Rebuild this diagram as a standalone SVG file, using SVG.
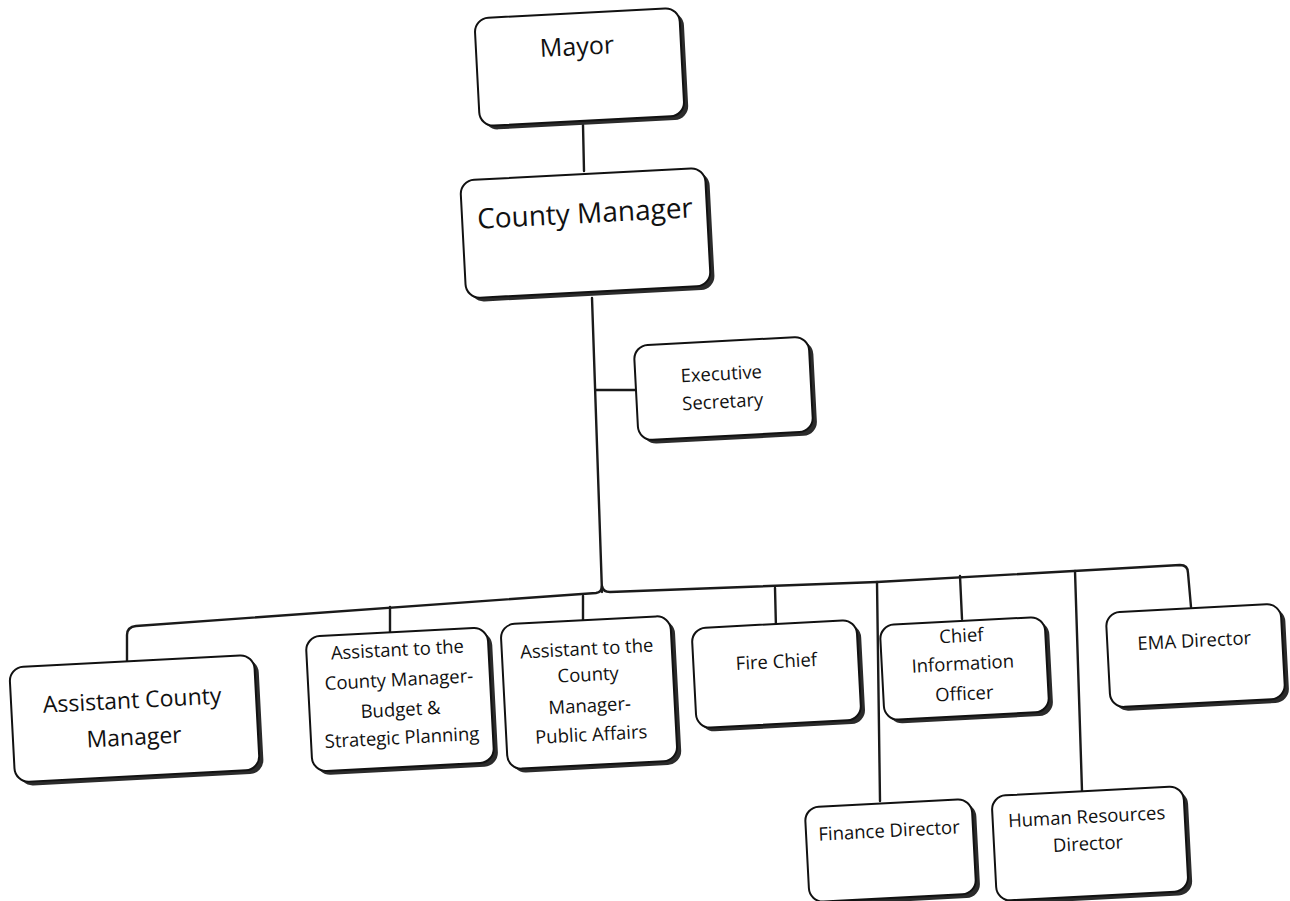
<svg xmlns="http://www.w3.org/2000/svg" width="1290" height="901" viewBox="0 0 1290 901">
<style>
.shadow{fill:#2b2b2b;}
.box{fill:#ffffff;stroke:#111111;stroke-width:2;}
.t{font-family:"Open Sans","Liberation Sans",sans-serif;fill:#111111;text-anchor:middle;}
.big{font-size:25px;}
.mid{font-size:23px;}
.sm{font-size:18.5px;}
.conn{fill:none;stroke:#1a1a1a;stroke-width:2.4;stroke-linecap:round;stroke-linejoin:round;}
</style>
<rect x="0" y="0" width="1290" height="901" fill="#ffffff"/>
<g id="connectors">
<path class="conn" d="M583,125 L584,171"/>
<path class="conn" d="M592,298 L602,592"/>
<path class="conn" d="M596,390 L637,390"/>
<path class="conn" d="M127,662 L127,635 Q127,627 136,626 L596,593 Q602,592 602,586 Q603,592 610,592 L877,582 L1180,565 Q1188,565 1188,573 L1191,607"/>
<path class="conn" d="M390,607 L390,633"/>
<path class="conn" d="M583,596 L583,621"/>
<path class="conn" d="M775,588 L776,629"/>
<path class="conn" d="M877,582 L880,801"/>
<path class="conn" d="M960,576 L962,619"/>
<path class="conn" d="M1075,571 L1082,791"/>
</g>
<g id="mayor" transform="rotate(-3 580 67)">
<rect class="shadow" x="481" y="17" width="205" height="108" rx="14"/>
<rect class="box" x="477" y="13" width="205" height="108" rx="14"/>
<text class="t big" x="578" y="55">Mayor</text>
</g>
<g id="county-manager" transform="rotate(-3 586 233)">
<rect class="shadow" x="467" y="178" width="245" height="118" rx="14"/>
<rect class="box" x="463" y="174" width="245" height="118" rx="14"/>
<text class="t" font-size="28" x="586" y="223">County Manager</text>
</g>
<g id="executive-secretary" transform="rotate(-3 723 388)">
<rect class="shadow" x="640" y="345" width="175" height="95" rx="14"/>
<rect class="box" x="636" y="341" width="175" height="95" rx="14"/>
<text class="t sm" x="722" y="380">Executive</text>
<text class="t sm" x="722" y="408">Secretary</text>
</g>
<g id="assistant-county-manager" transform="rotate(-3 135 718)">
<rect class="shadow" x="16" y="665" width="245" height="115" rx="14"/>
<rect class="box" x="12" y="661" width="245" height="115" rx="14"/>
<text class="t mid" x="133" y="708">Assistant County</text>
<text class="t mid" x="133" y="745">Manager</text>
</g>
<g id="assistant-budget" transform="rotate(-3 400 700)">
<rect class="shadow" x="313" y="636" width="182" height="135" rx="14"/>
<rect class="box" x="309" y="632" width="182" height="135" rx="14"/>
<text class="t sm" x="400" y="656">Assistant to the</text>
<text class="t sm" x="400" y="686">County Manager-</text>
<text class="t sm" x="400" y="716">Budget &amp;</text>
<text class="t sm" x="400" y="744">Strategic Planning</text>
</g>
<g id="assistant-public-affairs" transform="rotate(-3 589 692)">
<rect class="shadow" x="508" y="624" width="170" height="145" rx="14"/>
<rect class="box" x="504" y="620" width="170" height="145" rx="14"/>
<text class="t sm" x="589" y="655">Assistant to the</text>
<text class="t sm" x="589" y="681">County</text>
<text class="t sm" x="589" y="712">Manager-</text>
<text class="t sm" x="589" y="741">Public Affairs</text>
</g>
<g id="fire-chief" transform="rotate(-3 776 674)">
<rect class="shadow" x="698" y="628" width="165" height="100" rx="14"/>
<rect class="box" x="694" y="624" width="165" height="100" rx="14"/>
<text class="t sm" x="777" y="668">Fire Chief</text>
</g>
<g id="chief-information-officer" transform="rotate(-3 964 668)">
<rect class="shadow" x="886" y="625" width="165" height="95" rx="14"/>
<rect class="box" x="882" y="621" width="165" height="95" rx="14"/>
<text class="t sm" x="963" y="642">Chief</text>
<text class="t sm" x="963" y="670">Information</text>
<text class="t sm" x="963" y="700">Officer</text>
</g>
<g id="ema-director" transform="rotate(-3 1197 655)">
<rect class="shadow" x="1112" y="612" width="175" height="95" rx="14"/>
<rect class="box" x="1108" y="608" width="175" height="95" rx="14"/>
<text class="t sm" x="1195" y="647">EMA Director</text>
</g>
<g id="finance-director" transform="rotate(-3 890 850)">
<rect class="shadow" x="811" y="807" width="167" height="95" rx="14"/>
<rect class="box" x="807" y="803" width="167" height="95" rx="14"/>
<text class="t sm" x="890" y="837">Finance Director</text>
</g>
<g id="human-resources-director" transform="rotate(-3 1090 843)">
<rect class="shadow" x="998" y="795" width="192" height="105" rx="14"/>
<rect class="box" x="994" y="791" width="192" height="105" rx="14"/>
<text class="t sm" x="1088" y="823">Human Resources</text>
<text class="t sm" x="1088" y="850">Director</text>
</g>
</svg>
